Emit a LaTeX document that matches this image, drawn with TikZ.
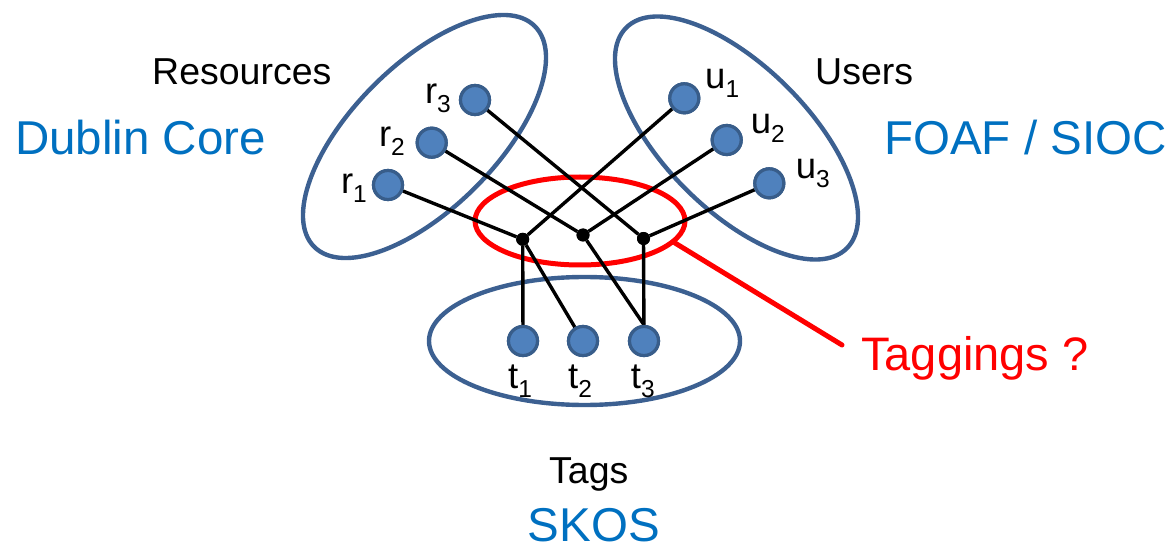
\documentclass[tikz,border=0pt]{standalone}
\usepackage{fontspec}
\setmainfont{Liberation Sans}
\usetikzlibrary{shapes.geometric}
\definecolor{setline}{RGB}{60,96,145}
\definecolor{nodefill}{RGB}{79,129,189}
\definecolor{nodeline}{RGB}{56,93,138}
\definecolor{vocab}{RGB}{0,112,192}
\newcommand\lbsub[1]{\raisebox{-9pt}{\fontsize{24.5}{25}\selectfont #1}}
\tikzset{
  setel/.style={ellipse, draw=setline, line width=4.4pt, inner sep=0pt},
  tagel/.style={ellipse, draw=red, line width=5pt, inner sep=0pt},
  item/.style={circle, draw=nodeline, fill=nodefill, line width=3.2pt, minimum size=29pt, inner sep=0pt},
  junc/.style={circle, fill=black, minimum size=13pt, inner sep=0pt},
  link/.style={black, line width=3.4pt},
  lbl/.style={inner sep=0pt, font=\fontsize{36.5}{40}\selectfont},
  bigl/.style={inner sep=0pt, anchor=base west, font=\fontsize{37.5}{40}\selectfont},
  vocl/.style={inner sep=0pt, anchor=base west, text=vocab, font=\fontsize{47.5}{50}\selectfont}
}
\begin{document}
\begin{tikzpicture}[x=1pt, y=-1pt]
\useasboundingbox (0,0) rectangle (1176,556);
% set ellipses
\node[setel, minimum width=312pt, minimum height=144pt, rotate=45] (res) at (424.5,136.5) {};
\node[setel, minimum width=312pt, minimum height=144pt, rotate=-45] (usr) at (736.5,138) {};
\node[setel, minimum width=311pt, minimum height=128pt] (tagset) at (584.5,341) {};
\node[tagel, minimum width=210pt, minimum height=88pt] (tagging) at (580,221) {};
% coordinates of items
\coordinate (r1p) at (388,185);
\coordinate (r2p) at (431.7,142.7);
\coordinate (r3p) at (475,100);
\coordinate (u1p) at (684.3,98.3);
\coordinate (u2p) at (726.7,140);
\coordinate (u3p) at (769.3,183.3);
\coordinate (tgend) at (842,345);
% junctions
\node[junc] (j1) at (522.7,239.3) {};
\node[junc] (j2) at (583,235) {};
\node[junc] (j3) at (643.5,238.5) {};
% items
\node[item] (r1) at (r1p) {};
\node[item] (r2) at (r2p) {};
\node[item] (r3) at (r3p) {};
\node[item] (u1) at (u1p) {};
\node[item] (u2) at (u2p) {};
\node[item] (u3) at (u3p) {};
\node[item] (t1) at (523,341) {};
\node[item] (t2) at (583,341) {};
\node[item] (t3) at (644,341) {};
% red callout
\draw[red, line width=5pt, line cap=round] (tagging.-13) -- (tgend);
% links
\draw[link] (r1) -- (j1);
\draw[link] (r2) -- (j2);
\draw[link] (r3) -- (j3);
\draw[link] (u1) -- (j1);
\draw[link] (u2) -- (j2);
\draw[link] (u3) -- (j3);
\draw[link] (j1) -- (t1);
\draw[link] (j1) -- (t2);
\draw[link] (j2) -- (t3.north);
\draw[link] (j3) -- (t3);
% redraw items above links
\node[item] at (r1p) {};
\node[item] at (r2p) {};
\node[item] at (r3p) {};
\node[item] at (u1p) {};
\node[item] at (u2p) {};
\node[item] at (u3p) {};
\node[item] at (523,341) {};
\node[item] at (583,341) {};
\node[item] at (644,341) {};
\node[junc] at (522.7,239.3) {};
\node[junc] at (583,235) {};
\node[junc] at (643.5,238.5) {};
% item labels
\node[lbl, anchor=base east] (lr3) at (451,103.3) {r\lbsub{3}};
\node[lbl, anchor=base east] (lr2) at (405,146.7) {r\lbsub{2}};
\node[lbl, anchor=base east] (lr1) at (367,193.3) {r\lbsub{1}};
\node[lbl, anchor=base west] (lu1) at (705,88.3) {u\lbsub{1}};
\node[lbl, anchor=base west] (lu2) at (750.7,133.3) {u\lbsub{2}};
\node[lbl, anchor=base west] (lu3) at (795.7,178.3) {u\lbsub{3}};
\node[lbl, anchor=base west] (lt1) at (508,388.3) {t\lbsub{1}};
\node[lbl, anchor=base west] (lt2) at (568,388.3) {t\lbsub{2}};
\node[lbl, anchor=base west] (lt3) at (630.7,388.3) {t\lbsub{3}};
% set names
\node[bigl] (nres) at (152,85) {Resources};
\node[bigl] (nusr) at (815,85) {Users};
\node[bigl] (ntag) at (549,483.3) {Tags};
\node[vocl] (vdc) at (15,155) {Dublin Core};
\node[vocl] (vfoaf) at (884,155) {FOAF / SIOC};
\node[vocl] (vskos) at (527.5,541.7) {SKOS};
\node[inner sep=0pt, anchor=base west, text=red, font=\fontsize{47}{50}\selectfont] (ntg) at (861,370) {Taggings ?};
\end{tikzpicture}
\end{document}
